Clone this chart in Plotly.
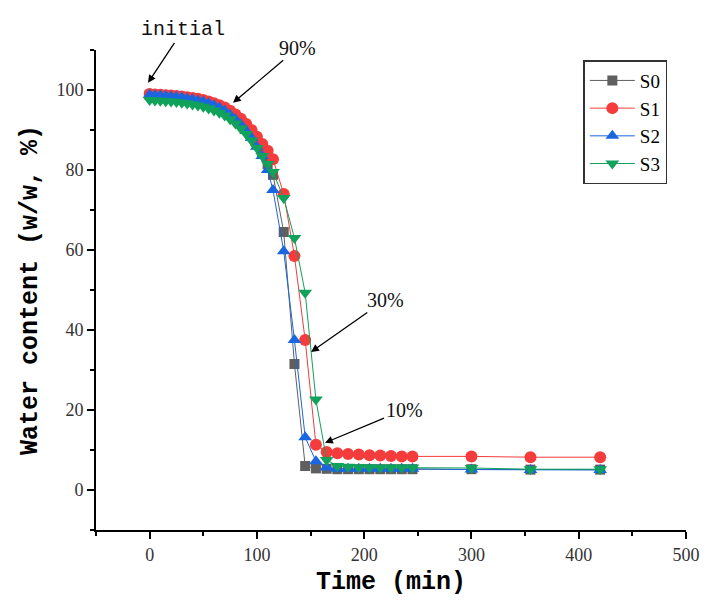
import plotly.graph_objects as go

time = [0, 5, 10, 15, 20, 25, 30, 35, 40, 45, 50, 55, 60, 65, 70, 75, 80, 85, 90, 95, 100, 105, 110,
        115, 125, 135, 145, 155, 165, 175, 185, 195, 205, 215, 225, 235, 245, 300, 355, 420]

s0 = [98.8, 98.7, 98.6, 98.5, 98.4, 98.3, 98.1, 97.9, 97.7, 97.4, 97.1, 96.7, 96.2, 95.6, 94.9, 94.0, 93.0, 91.8, 90.3, 88.5, 86.4, 84.0, 81.5,
      78.8, 64.5, 31.5, 6.0, 5.4, 5.3, 5.2, 5.2, 5.2, 5.2, 5.2, 5.2, 5.2, 5.2, 5.2, 5.1, 5.1]
s1 = [99.0, 98.9, 98.8, 98.7, 98.6, 98.5, 98.4, 98.2, 98.0, 97.8, 97.5, 97.1, 96.7, 96.2, 95.6, 94.8, 93.9, 92.8, 91.5, 90.0, 88.3, 86.5, 84.8,
      82.7, 74.0, 58.5, 37.5, 11.3, 9.5, 9.2, 9.0, 8.9, 8.7, 8.6, 8.5, 8.4, 8.4, 8.4, 8.2, 8.2]
s2 = [98.8, 98.7, 98.6, 98.5, 98.4, 98.3, 98.1, 97.9, 97.7, 97.4, 97.1, 96.7, 96.2, 95.6, 94.8, 93.8, 92.7, 91.4, 89.8, 88.0, 85.8, 83.5, 80.0,
      75.0, 59.7, 37.5, 13.2, 7.2, 5.6, 5.3, 5.3, 5.3, 5.3, 5.3, 5.3, 5.3, 5.3, 5.1, 5.0, 5.0]
s3 = [97.5, 97.4, 97.3, 97.2, 97.1, 97.0, 96.8, 96.6, 96.4, 96.1, 95.8, 95.4, 94.9, 94.3, 93.6, 92.7, 91.6, 90.4, 89.0, 87.4, 85.5, 83.5, 81.5,
      79.5, 73.0, 63.0, 49.3, 22.6, 7.5, 6.0, 5.8, 5.7, 5.7, 5.6, 5.6, 5.6, 5.6, 5.5, 5.2, 5.2]

names = ["S0", "S1", "S2", "S3"]
colors = ["#5f5f5f", "#f53c3c", "#1a66e0", "#10a15a"]
symbols = ["square", "circle", "triangle-up", "triangle-down"]
sizes = [10, 12, 12, 12]

x_ticks = [0, 100, 200, 300, 400, 500]
y_ticks = [0, 20, 40, 60, 80, 100]

fig = go.Figure()
for name, ys, c, sym, sz in zip(names, [s0, s1, s2, s3], colors, symbols, sizes):
    fig.add_trace(go.Scatter(
        x=time, y=ys, name=name, mode="lines+markers",
        line=dict(color=c, width=1),
        marker=dict(symbol=sym, size=sz, color=c, line=dict(width=0)),
    ))

serif = "'Liberation Serif', 'Times New Roman', Times, serif"
mono = "'Liberation Mono', 'Courier New', monospace"

annots = [
    dict(text="initial", x=-1.5, y=101.8, ax=35, ay=-53, font=dict(family=mono, size=20, color="#111")),
    dict(text="90%", x=77.7, y=96.8, ax=65, ay=-55, font=dict(family=serif, size=20, color="#111")),
    dict(text="30%", x=150.5, y=34.5, ax=74, ay=-52, font=dict(family=serif, size=20, color="#111")),
    dict(text="10%", x=163.5, y=11.8, ax=79, ay=-33, font=dict(family=serif, size=20, color="#111")),
]
for a in annots:
    fig.add_annotation(xref="x", yref="y", showarrow=True, arrowhead=2, arrowsize=1.2,
                       arrowwidth=1.3, arrowcolor="black", **a)

axis_common = dict(
    showgrid=False, zeroline=False, showline=True, linecolor="black", linewidth=2,
    ticks="outside", ticklen=7, tickwidth=2, tickcolor="black",
    tickfont=dict(family=serif, size=18, color="#333"),
    minor=dict(ticks="outside", ticklen=4, tickwidth=2, tickcolor="black"),
)

title_font = dict(family=mono, size=25, color="black", weight="bold")

fig.update_xaxes(range=[-50, 500], tickvals=x_ticks, minor_dtick=50, minor_tick0=0,
                 title=dict(text="Time (min)", font=title_font, standoff=8),
                 **axis_common)
fig.update_yaxes(range=[-10, 110], tickvals=y_ticks, minor_dtick=10, minor_tick0=0,
                 title=dict(text="Water content (w/w, %)", font=title_font, standoff=12),
                 **axis_common)

fig.update_layout(
    width=704, height=604,
    margin=dict(l=88, r=26, t=42, b=82),
    paper_bgcolor="white", plot_bgcolor="white",
    showlegend=True,
    legend=dict(x=0.826, y=0.979, xanchor="left", yanchor="top",
                bordercolor="#333", borderwidth=1.5, bgcolor="white",
                font=dict(family=serif, size=19, color="black"),
                tracegroupgap=0, itemwidth=45),
)

fig.write_html("out.html")
